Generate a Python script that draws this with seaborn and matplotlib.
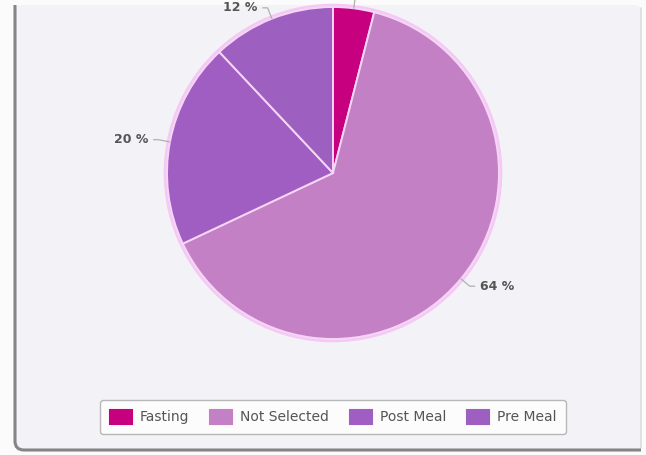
import matplotlib
matplotlib.use("Agg")
import matplotlib.pyplot as plt
import seaborn as sns
import numpy as np
from matplotlib.patches import FancyBboxPatch, Circle, Patch
from matplotlib.path import Path
from matplotlib.patches import PathPatch
from matplotlib.lines import Line2D

categories = ["Fasting", "Not Selected", "Post Meal", "Pre Meal"]
values = [4, 64, 20, 12]
labels = ["4 %", "64 %", "20 %", "12 %"]
colors = ["#c6007f", "#c380c5", "#a05ec2", "#9e60c0"]

sns.set_style("white")
plt.rcParams["font.family"] = ["DejaVu Sans"]

W, H = 646, 455
fig = plt.figure(figsize=(W / 100, H / 100), dpi=100)
fig.patch.set_facecolor("#fbfbfc")


def fx(x):
    return x / W


def fy(y):
    return 1 - y / H


# panel background
panel = FancyBboxPatch((fx(15), fy(450)), fx(641) - fx(15), fy(5) - fy(450),
                       boxstyle="round,pad=0,rounding_size=0.012",
                       transform=fig.transFigure, facecolor="#f3f3f7",
                       edgecolor="none", zorder=-10)
fig.patches.append(panel)
r = 9
verts = [(15, 5), (15, 450 - r), (15, 450), (15 + r, 450), (641, 450)]
verts = [(fx(a), fy(b)) for a, b in verts]
codes = [Path.MOVETO, Path.LINETO, Path.CURVE3, Path.CURVE3, Path.LINETO]
border = PathPatch(Path(verts, codes), transform=fig.transFigure,
                   facecolor="none", edgecolor="#858585", linewidth=2.2, zorder=-9)
fig.patches.append(border)
fig.add_artist(Line2D([fx(641), fx(641)], [fy(8), fy(448)], transform=fig.transFigure,
                      color="#dcdcdc", linewidth=1.2, zorder=-9))

# pie axes: center at (333,173) px, radius 166 px
cx, cy, R = 333, 173, 166
ax = fig.add_axes([0, 0, 1, 1])
ax.set_facecolor("none")
ymax = cy / R

glow = Circle((0, 0), 1.02, facecolor="#f5c8f5", edgecolor="none", zorder=0)
ax.add_patch(glow)
wedges, _ = ax.pie(values, colors=colors, startangle=90, counterclock=False,
                   radius=1, center=(0, 0),
                   wedgeprops=dict(edgecolor="#f6d6f6", linewidth=1.4))

for w, lab in zip(wedges, labels):
    ang = np.deg2rad((w.theta1 + w.theta2) / 2)
    c, s = np.cos(ang), np.sin(ang)
    x0, y0 = 1.0 * c, 1.0 * s
    dist = 1.07 if abs(c) > 0.25 else 1.25
    x1, y1 = dist * c, dist * s
    side = 1 if c >= 0 else -1
    x2 = x1 + side * 0.03
    ax.plot([x0, x1, x2], [y0, y1, y1], color="#b0b0b0", linewidth=0.9, zorder=3)
    if y1 < ymax:  # labels pushed above the visible frame are not shown
        ax.text(x2 + side * 0.03, y1, lab, ha="left" if side > 0 else "right",
                va="center", fontsize=9, fontweight="bold", color="#555555", zorder=4)

ax.set_aspect("auto")
ax.set_xlim(-cx / R, (W - cx) / R)
ax.set_ylim(-(H - cy) / R, ymax)
ax.axis("off")

handles = [Patch(facecolor=col, edgecolor=col, linewidth=1.5, joinstyle="round")
           for col in colors]
leg = fig.legend(handles, categories, loc="center", bbox_to_anchor=(fx(333), fy(417)),
                 ncol=4, frameon=True, fancybox=True, fontsize=10,
                 handlelength=1.6, handleheight=1.2, handletextpad=0.55,
                 columnspacing=1.5, borderpad=0.7, labelcolor="#555555")
leg.get_frame().set_edgecolor("#a8a8a8")
leg.get_frame().set_facecolor("white")
leg.get_frame().set_linewidth(1.0)

fig.savefig("out.png", dpi=100, facecolor=fig.get_facecolor())
